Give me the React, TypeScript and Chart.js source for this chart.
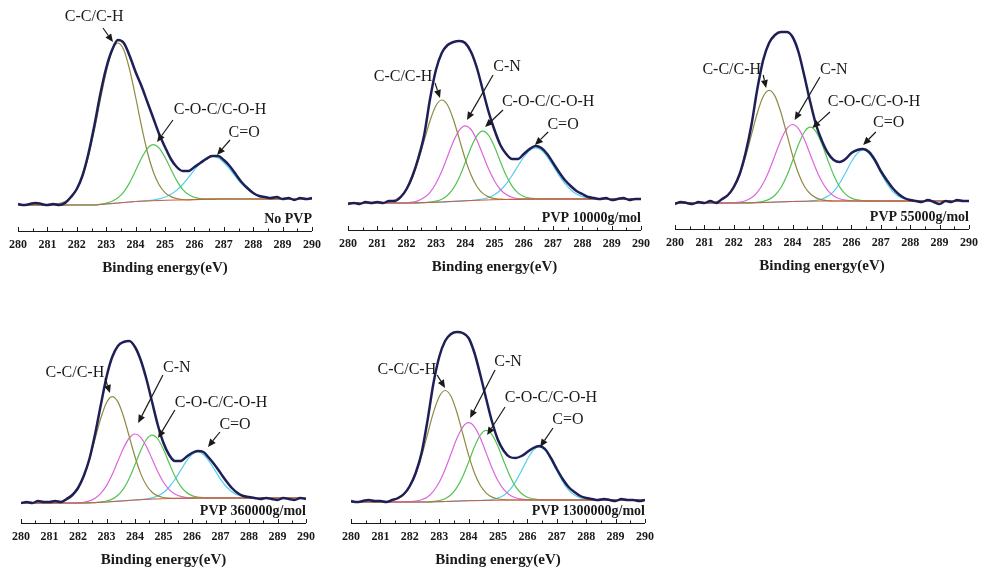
import React, { useEffect, useRef } from 'react';
import { Chart, registerables } from 'chart.js';

Chart.register(...registerables);

const SERIF = '"Liberation Serif", "Times New Roman", serif';

// Binding energy grid (eV)
const ENERGY = [280, 280.2, 280.4, 280.6, 280.8, 281, 281.2, 281.4, 281.6, 281.8, 282, 282.2, 282.4, 282.6, 282.8, 283, 283.2, 283.4, 283.6, 283.8, 284, 284.2, 284.4, 284.6, 284.8, 285, 285.2, 285.4, 285.6, 285.8, 286, 286.2, 286.4, 286.6, 286.8, 287, 287.2, 287.4, 287.6, 287.8, 288, 288.2, 288.4, 288.6, 288.8, 289, 289.2, 289.4, 289.6, 289.8, 290];

const SAMPLE_LABELS = ['No PVP', 'PVP 10000g/mol', 'PVP 55000g/mol', 'PVP 360000g/mol', 'PVP 1300000g/mol'];
const PEAK_LABELS = { cc: 'C-C/C-H', cn: 'C-N', coc: 'C-O-C/C-O-H', cdo: 'C=O' };
const AXIS_TITLE = 'Binding energy(eV)';

// ---- No PVP ----
const NOPVP_ENV = [27, 26, 27, 28, 27, 26, 27, 26, 28, 34, 42, 56, 78, 106, 137, 163, 181, 191, 188, 175, 159, 145, 129, 113, 97, 84, 72, 64, 60, 60, 64, 68, 72, 75, 75, 71, 65, 57, 49, 43, 38, 35, 34, 33, 34, 32, 33, 31, 33, 32, 33];
const NOPVP_BG = [26, 26, 26, 26, 26, 26, 26, 26, 26, 26, 26, 26, 26, 26, 26.5, 27, 27.5, 28, 28.5, 29, 29.5, 29.8, 30, 30.3, 30.5, 30.7, 30.9, 31, 31, 31.2, 31.4, 31.6, 31.8, 31.9, 32, 32, 32, 32, 32, 32, 32, 32, 32, 32, 32, 32, 32, 32, 32, 32, 32];
const NOPVP_CC = [26, 26, 26, 26, 26, 26, 26.5, 27.4, 29.5, 33.7, 41.7, 55, 75, 101, 131, 159, 180, 188, 181, 161, 134, 105, 79, 59.3, 46.2, 38.4, 34.4, 32.4, 31.5, 31.2, 31.4, 31.6, 31.8, 31.9, 32, 32, 32, 32, 32, 32, 32, 32, 32, 32, 32, 32, 32, 32, 32, 32, 32];
const NOPVP_COC = [26, 26, 26, 26, 26, 26, 26, 26, 26, 26, 26, 26, 26, 26, 26.8, 27.8, 29.7, 33.2, 39.2, 48.4, 60.4, 72.8, 82.4, 86.3, 82.9, 73.7, 61.8, 50.4, 41.7, 36.4, 33.6, 32.4, 31.9, 31.9, 32, 32, 32, 32, 32, 32, 32, 32, 32, 32, 32, 32, 32, 32, 32, 32, 32];
const NOPVP_CDO = [26, 26, 26, 26, 26, 26, 26, 26, 26, 26, 26, 26, 26, 26, 26.5, 27, 27.5, 28, 28.5, 29, 29.5, 29.8, 30.3, 31, 32.1, 33.8, 36.7, 40.9, 46.5, 53.6, 61.2, 68.1, 73.1, 74.9, 73.3, 68.5, 61.8, 54.4, 47.5, 41.9, 37.8, 35.1, 33.6, 32.7, 32.3, 32, 32, 32, 32, 32, 32];

// ---- PVP 10000 g/mol ----
const P10K_ENV = [26, 27, 26, 28, 27, 28, 27, 29, 29, 33, 41, 54, 72, 95, 131, 160, 177, 185, 188, 189, 187, 178, 162, 140, 118, 100, 85, 76, 71, 71, 76, 81, 84, 82, 76, 67, 58, 50, 44, 39, 36, 33, 32, 31, 32, 30, 31, 32, 30, 31, 31];
const P10K_BG = [27, 27, 27, 27, 27, 27, 27, 27, 27, 27, 27, 27, 27.2, 27.4, 27.6, 27.8, 28, 28.3, 28.6, 28.9, 29.2, 29.5, 29.7, 29.9, 30.1, 30.3, 30.4, 30.5, 30.6, 30.7, 30.8, 30.9, 31, 31, 31, 31, 31, 31, 31, 31, 31, 31, 31, 31, 31, 31, 31, 31, 31, 31, 31];
const P10K_CC = [27, 27, 27, 27, 27, 27, 27.4, 28.1, 30, 33.7, 40.8, 52.4, 69.1, 89.3, 109.3, 124.3, 130, 124.8, 110.3, 90.8, 71.1, 54.9, 43.5, 36.6, 33.1, 31.4, 30.8, 30.5, 30.6, 30.7, 30.8, 30.9, 31, 31, 31, 31, 31, 31, 31, 31, 31, 31, 31, 31, 31, 31, 31, 31, 31, 31, 31];
const P10K_CN = [27, 27, 27, 27, 27, 27, 27, 27, 27, 27, 27.3, 27.8, 29.4, 32.4, 37.7, 46.5, 58.8, 73.8, 88.7, 99.9, 104.2, 100.5, 89.8, 75.4, 60.9, 49, 40.5, 35.5, 32.8, 31.5, 31.1, 30.9, 31, 31, 31, 31, 31, 31, 31, 31, 31, 31, 31, 31, 31, 31, 31, 31, 31, 31, 31];
const P10K_COC = [27, 27, 27, 27, 27, 27, 27, 27, 27, 27, 27, 27, 27.2, 27.4, 27.9, 28.8, 30.7, 34.7, 41.8, 52.8, 67.3, 82.5, 94.3, 98.9, 94.7, 83.3, 68.5, 54.4, 43.8, 37.1, 33.5, 32, 31.3, 31, 31, 31, 31, 31, 31, 31, 31, 31, 31, 31, 31, 31, 31, 31, 31, 31, 31];
const P10K_CDO = [27, 27, 27, 27, 27, 27, 27, 27, 27, 27, 27, 27, 27.2, 27.4, 27.6, 27.8, 28, 28.3, 28.6, 28.9, 29.2, 29.5, 30.2, 31, 32.5, 35.3, 39.7, 46.1, 54.5, 64, 73, 79.6, 82, 79.7, 73.2, 64.3, 54.9, 46.6, 40.3, 36, 33.4, 32.1, 31.5, 31.2, 31, 31, 31, 31, 31, 31, 31];

// ---- PVP 55000 g/mol ----
const P55K_ENV = [25, 27, 26, 25, 27, 26, 28, 26, 30, 34, 42, 55, 76, 104, 140, 169, 186, 194, 197, 197, 192, 177, 153, 127, 104, 88, 76, 69, 67, 70, 76, 79, 80, 77, 69, 58, 49, 41, 35, 31, 29, 28, 27, 29, 27, 25, 28, 27, 29, 28, 28];
const P55K_BG = [26, 26, 26, 26, 26, 26, 26, 26, 26, 26, 26, 26, 26.1, 26.2, 26.3, 26.5, 26.7, 26.9, 27.1, 27.3, 27.5, 27.6, 27.7, 27.8, 27.9, 28, 28, 28, 28, 28, 28, 28, 28, 28, 28, 28, 28, 28, 28, 28, 28, 28, 28, 28, 28, 28, 28, 28, 28, 28, 28];
const P55K_CC = [26, 26, 26, 26, 26, 26, 26.4, 27.2, 29.2, 33.4, 41.1, 53.9, 72.1, 94.2, 116, 132.5, 138.7, 132.9, 116.8, 95.3, 73.5, 55.5, 42.8, 35.2, 31.1, 29.2, 28.4, 28, 28, 28, 28, 28, 28, 28, 28, 28, 28, 28, 28, 28, 28, 28, 28, 28, 28, 28, 28, 28, 28, 28, 28];
const P55K_CN = [26, 26, 26, 26, 26, 26, 26, 26, 26, 26, 26.3, 26.8, 28.3, 31.3, 36.7, 45.7, 58.3, 73.6, 88.8, 100.1, 104.5, 100.4, 89.4, 74.5, 59.5, 47.2, 38.4, 33.1, 30.2, 28.8, 28.3, 28, 28, 28, 28, 28, 28, 28, 28, 28, 28, 28, 28, 28, 28, 28, 28, 28, 28, 28, 28];
const P55K_COC = [26, 26, 26, 26, 26, 26, 26, 26, 26, 26, 26, 26, 26.1, 26.2, 26.7, 27.6, 29.6, 33.8, 41.2, 53, 68.3, 84.4, 97, 101.8, 97.2, 84.8, 68.8, 53.7, 42.1, 34.9, 30.9, 29.1, 28.4, 28, 28, 28, 28, 28, 28, 28, 28, 28, 28, 28, 28, 28, 28, 28, 28, 28, 28];
const P55K_CDO = [26, 26, 26, 26, 26, 26, 26, 26, 26, 26, 26, 26, 26.1, 26.2, 26.3, 26.5, 26.7, 26.9, 27.1, 27.3, 27.5, 27.6, 27.7, 28.2, 28.7, 30, 32.7, 37.7, 45.7, 56.2, 67.2, 75.7, 79, 75.7, 67.2, 56.2, 45.7, 37.7, 32.7, 30, 28.8, 28.3, 28, 28, 28, 28, 28, 28, 28, 28, 28];

// ---- PVP 360000 g/mol ----
const P360K_ENV = [20, 21, 20, 22, 21, 21, 22, 21, 24, 28, 35, 47, 64, 89, 118, 146, 166, 177, 181, 182, 176, 163, 144, 121, 98, 80, 68, 62, 62, 66, 70, 72, 71, 65, 58, 50, 42, 35, 30, 27, 26, 25, 24, 25, 24, 23, 25, 24, 23, 25, 24];
const P360K_BG = [20, 20, 20, 20, 20, 20, 20, 20, 20, 20, 20, 20, 20.2, 20.4, 20.7, 21, 21.4, 21.8, 22.2, 22.6, 23, 23.3, 23.6, 23.9, 24.1, 24.3, 24.5, 24.6, 24.7, 24.8, 24.9, 25, 25, 25, 25, 25, 25, 25, 25, 25, 25, 25, 25, 25, 25, 25, 25, 25, 25, 25, 25];
const P360K_CC = [20, 20, 20, 20, 20, 20, 20.4, 21.2, 23, 26.9, 34.2, 46.1, 63.4, 84.1, 104.8, 120.3, 126.4, 121.1, 106.3, 86.3, 66.2, 49.4, 37.8, 30.8, 27.1, 25.5, 24.9, 24.6, 24.7, 24.8, 24.9, 25, 25, 25, 25, 25, 25, 25, 25, 25, 25, 25, 25, 25, 25, 25, 25, 25, 25, 25, 25];
const P360K_CN = [20, 20, 20, 20, 20, 20, 20, 20, 20, 20, 20.3, 20.7, 22.1, 24.8, 29.6, 37.4, 48.5, 61.9, 75.1, 85, 89, 85.7, 76.5, 64, 51.2, 40.7, 33.4, 29, 26.6, 25.5, 25.2, 25, 25, 25, 25, 25, 25, 25, 25, 25, 25, 25, 25, 25, 25, 25, 25, 25, 25, 25, 25];
const P360K_COC = [20, 20, 20, 20, 20, 20, 20, 20, 20, 20, 20, 20, 20.2, 20.4, 21, 22, 23.9, 27.8, 34.4, 44.8, 58.3, 72.5, 83.5, 87.9, 84, 73.5, 59.8, 46.8, 36.9, 30.8, 27.4, 26, 25.3, 25, 25, 25, 25, 25, 25, 25, 25, 25, 25, 25, 25, 25, 25, 25, 25, 25, 25];
const P360K_CDO = [20, 20, 20, 20, 20, 20, 20, 20, 20, 20, 20, 20, 20.2, 20.4, 20.7, 21, 21.4, 21.8, 22.2, 22.6, 23, 23.3, 24.1, 25.2, 27.1, 30.5, 36, 43.5, 52.6, 61.6, 68.4, 71, 68.5, 61.8, 52.9, 43.9, 36.5, 31.2, 28, 26.3, 25.5, 25.2, 25, 25, 25, 25, 25, 25, 25, 25, 25];

// ---- PVP 1300000 g/mol ----
const P1300K_ENV = [22, 21, 22, 23, 22, 22, 21, 23, 25, 29, 37, 50, 70, 102, 139, 166, 182, 189, 191, 190, 185, 170, 148, 124, 101, 83, 72, 66, 65, 67, 71, 75, 77, 74, 65, 54, 44, 36, 31, 27, 25, 24, 23, 24, 23, 22, 24, 23, 23, 22, 23];
const P1300K_BG = [21, 21, 21, 21, 21, 21, 21, 21, 21, 21, 21, 21, 21, 21, 21.2, 21.3, 21.5, 21.7, 21.9, 22.1, 22.3, 22.4, 22.5, 22.6, 22.7, 22.8, 22.9, 23, 23, 23, 23, 23, 23, 23, 23, 23, 23, 23, 23, 23, 23, 23, 23, 23, 23, 23, 23, 23, 23, 23, 23];
const P1300K_CC = [21, 21, 21, 21, 21, 21, 21.4, 22.2, 24.2, 28.3, 36, 48.6, 66.6, 88.4, 110.1, 126.3, 132.5, 126.7, 110.8, 89.5, 67.9, 50, 37.5, 29.9, 25.9, 24, 23.3, 23, 23, 23, 23, 23, 23, 23, 23, 23, 23, 23, 23, 23, 23, 23, 23, 23, 23, 23, 23, 23, 23, 23, 23];
const P1300K_CN = [21, 21, 21, 21, 21, 21, 21, 21, 21, 21, 21.3, 21.9, 23.3, 26.1, 31.7, 40.7, 53.6, 69, 84.4, 95.9, 100.3, 96.2, 85, 69.9, 54.8, 42.2, 33.4, 28.1, 25.3, 23.9, 23.3, 23, 23, 23, 23, 23, 23, 23, 23, 23, 23, 23, 23, 23, 23, 23, 23, 23, 23, 23, 23];
const P1300K_COC = [21, 21, 21, 21, 21, 21, 21, 21, 21, 21, 21, 21, 21, 21, 21.6, 22.4, 24.2, 28.2, 35.3, 46.4, 60.9, 76.2, 88, 92.6, 88.2, 76.6, 61.5, 47.3, 36.4, 29.5, 25.7, 24.1, 23.4, 23, 23, 23, 23, 23, 23, 23, 23, 23, 23, 23, 23, 23, 23, 23, 23, 23, 23];
const P1300K_CDO = [21, 21, 21, 21, 21, 21, 21, 21, 21, 21, 21, 21, 21, 21, 21.2, 21.3, 21.5, 21.7, 21.9, 22.1, 22.3, 22.4, 22.5, 22.9, 23.5, 24.9, 27.8, 33.1, 41.4, 52.3, 63.7, 72.6, 76, 72.6, 63.7, 52.3, 41.4, 33.1, 27.9, 25.1, 23.8, 23.3, 23, 23, 23, 23, 23, 23, 23, 23, 23];

const COLORS = {
  env: '#1f1f58',
  bg: '#d2583a',
  cc: '#8e8a42',
  cn: '#dd66dd',
  coc: '#52c452',
  cdo: '#52cfee',
};

type Note = { key: 'cc' | 'cn' | 'coc' | 'cdo'; at: [number, number]; from: [number, number]; to: [number, number] };

const PANELS = [
  {
    label: SAMPLE_LABELS[0], env: NOPVP_ENV, bg: NOPVP_BG, cc: NOPVP_CC, cn: null, coc: NOPVP_COC, cdo: NOPVP_CDO,
    x0: 18, x1: 312, axisY: 231, ymax: 200, padR: 30,
    notes: [
      { key: 'cc', at: [282.59, 214], from: [282.89, 203], to: [283.23, 189] },
      { key: 'coc', at: [286.87, 121], from: [285.27, 111], to: [284.73, 89] },
      { key: 'cdo', at: [287.69, 98], from: [287.21, 91], to: [286.77, 76] },
    ] as Note[],
  },
  {
    label: SAMPLE_LABELS[1], env: P10K_ENV, bg: P10K_BG, cc: P10K_CC, cn: P10K_CN, coc: P10K_COC, cdo: P10K_CDO,
    x0: 348, x1: 641, axisY: 230, ymax: 200, padR: 30,
    notes: [
      { key: 'cc', at: [281.88, 153], from: [282.97, 147], to: [283.14, 132] },
      { key: 'cn', at: [285.43, 163], from: [284.95, 155], to: [284.06, 110] },
      { key: 'coc', at: [286.83, 128], from: [285.29, 120], to: [284.68, 103] },
      { key: 'cdo', at: [287.34, 105], from: [286.83, 98], to: [286.38, 85] },
    ] as Note[],
  },
  {
    label: SAMPLE_LABELS[2], env: P55K_ENV, bg: P55K_BG, cc: P55K_CC, cn: P55K_CN, coc: P55K_COC, cdo: P55K_CDO,
    x0: 675, x1: 975, axisY: 229, ymax: 205, padR: 10,
    notes: [
      { key: 'cc', at: [281.93, 159], from: [283.0, 154], to: [283.1, 141] },
      { key: 'cn', at: [285.4, 159], from: [284.93, 152], to: [284.07, 109] },
      { key: 'coc', at: [286.77, 127], from: [285.27, 117], to: [284.67, 101] },
      { key: 'cdo', at: [287.27, 106], from: [286.83, 97], to: [286.4, 84] },
    ] as Note[],
  },
  {
    label: SAMPLE_LABELS[3], env: P360K_ENV, bg: P360K_BG, cc: P360K_CC, cn: P360K_CN, coc: P360K_COC, cdo: P360K_CDO,
    x0: 21, x1: 306, axisY: 523, ymax: 200, padR: 30,
    notes: [
      { key: 'cc', at: [281.89, 150], from: [282.95, 145], to: [283.12, 130] },
      { key: 'cn', at: [285.47, 155], from: [284.98, 148], to: [284.11, 100] },
      { key: 'coc', at: [287.02, 120], from: [285.4, 113], to: [284.81, 85] },
      { key: 'cdo', at: [287.51, 98], from: [286.98, 91], to: [286.56, 76] },
    ] as Note[],
  },
  {
    label: SAMPLE_LABELS[4], env: P1300K_ENV, bg: P1300K_BG, cc: P1300K_CC, cn: P1300K_CN, coc: P1300K_COC, cdo: P1300K_CDO,
    x0: 351, x1: 645, axisY: 523, ymax: 200, padR: 30,
    notes: [
      { key: 'cc', at: [281.9, 153], from: [282.93, 148], to: [283.2, 135] },
      { key: 'cn', at: [285.34, 161], from: [284.9, 153], to: [284.05, 105] },
      { key: 'coc', at: [286.8, 125], from: [285.24, 116], to: [284.63, 88] },
      { key: 'cdo', at: [287.38, 103], from: [286.87, 95], to: [286.43, 76] },
    ] as Note[],
  },
];

const PAD_L = 30;
const TOP_ROOM = 235;
const AXIS_H = 50;
const PAD_B = 2;

function XpsPanel({ p }: { p: any }) {
  const ref = useRef<HTMLCanvasElement>(null);
  const width = PAD_L + (p.x1 - p.x0) + p.padR;
  const height = TOP_ROOM + AXIS_H + PAD_B;

  useEffect(() => {
    if (!ref.current) return;
    const pts = (arr: number[]) => ENERGY.map((e, i) => ({ x: e, y: arr[i] }));
    const ds = (label: string, arr: number[], color: string, w: number) => ({
      label,
      data: pts(arr),
      borderColor: color,
      borderWidth: w,
      pointRadius: 0,
      fill: false,
      cubicInterpolationMode: 'monotone',
    });
    const datasets: any[] = [ds('Envelope', p.env, COLORS.env, 2.5), ds('Background', p.bg, COLORS.bg, 1)];
    datasets.push(ds(PEAK_LABELS.cc, p.cc, COLORS.cc, 1.2));
    if (p.cn) datasets.push(ds(PEAK_LABELS.cn, p.cn, COLORS.cn, 1.2));
    datasets.push(ds(PEAK_LABELS.coc, p.coc, COLORS.coc, 1.2));
    datasets.push(ds(PEAK_LABELS.cdo, p.cdo, COLORS.cdo, 1.2));

    const decor = {
      id: 'xpsDecor',
      afterDraw(chart: any) {
        const { ctx, chartArea: a, scales } = chart;
        const xs = scales.x;
        const ys = scales.y;
        ctx.save();
        ctx.strokeStyle = '#1a1a1a';
        ctx.fillStyle = '#1a1a1a';
        ctx.lineWidth = 1.2;
        ctx.beginPath();
        ctx.moveTo(a.left, a.bottom + 0.5);
        ctx.lineTo(a.right, a.bottom + 0.5);
        ctx.stroke();
        ctx.lineWidth = 1;
        for (let k = 0; k <= 20; k++) {
          const v = 280 + k * 0.5;
          const px = Math.round(xs.getPixelForValue(v)) + 0.5;
          const len = k % 2 === 0 ? 4 : 2.5;
          ctx.beginPath();
          ctx.moveTo(px, a.bottom);
          ctx.lineTo(px, a.bottom - len);
          ctx.stroke();
        }
        // sample label
        ctx.font = `bold 14px ${SERIF}`;
        ctx.textAlign = 'right';
        ctx.textBaseline = 'middle';
        ctx.fillText(p.label, a.right, a.bottom - 12);
        // peak annotations
        ctx.font = `16px ${SERIF}`;
        ctx.textAlign = 'center';
        for (const n of p.notes as Note[]) {
          const tx = xs.getPixelForValue(n.at[0]);
          const ty = ys.getPixelForValue(n.at[1]);
          ctx.fillText(PEAK_LABELS[n.key], tx, ty);
          const fx = xs.getPixelForValue(n.from[0]);
          const fy = ys.getPixelForValue(n.from[1]);
          const ex = xs.getPixelForValue(n.to[0]);
          const ey = ys.getPixelForValue(n.to[1]);
          const ang = Math.atan2(ey - fy, ex - fx);
          const head = 8;
          const bx = ex - head * Math.cos(ang);
          const by = ey - head * Math.sin(ang);
          ctx.lineWidth = 1.2;
          ctx.beginPath();
          ctx.moveTo(fx, fy);
          ctx.lineTo(bx, by);
          ctx.stroke();
          ctx.beginPath();
          ctx.moveTo(ex, ey);
          ctx.lineTo(bx + 3.5 * Math.sin(ang), by - 3.5 * Math.cos(ang));
          ctx.lineTo(bx - 3.5 * Math.sin(ang), by + 3.5 * Math.cos(ang));
          ctx.closePath();
          ctx.fill();
        }
        ctx.restore();
      },
    };

    const chart = new Chart(ref.current, {
      type: 'line',
      data: { datasets },
      options: {
        animation: false,
        responsive: false,
        maintainAspectRatio: false,
        devicePixelRatio: 1,
        layout: { padding: { left: PAD_L, right: p.padR, top: TOP_ROOM - p.ymax, bottom: PAD_B } },
        plugins: { legend: { display: false }, tooltip: { enabled: false }, title: { display: false } },
        elements: { point: { radius: 0 } },
        scales: {
          x: {
            type: 'linear',
            min: 280,
            max: 290,
            grid: { display: false, drawTicks: false },
            border: { display: false },
            ticks: {
              stepSize: 1,
              autoSkip: false,
              maxRotation: 0,
              padding: 7,
              color: '#1a1a1a',
              font: { family: SERIF, size: 12, weight: 'bold' },
            },
            title: {
              display: true,
              text: AXIS_TITLE,
              color: '#1a1a1a',
              font: { family: SERIF, size: 15, weight: 'bold' },
              padding: { top: 8, bottom: 4 },
            },
            afterFit: (scale: any) => {
              scale.height = AXIS_H;
            },
          },
          y: { display: false, min: 0, max: p.ymax },
        },
      } as any,
      plugins: [decor],
    });
    return () => chart.destroy();
  }, []);

  return (
    <canvas
      ref={ref}
      width={width}
      height={height}
      style={{ position: 'absolute', left: p.x0 - PAD_L, top: p.axisY - TOP_ROOM, width, height }}
    />
  );
}

export default function App() {
  return (
    <div style={{ position: 'absolute', left: 0, top: 0, width: 986, height: 572, overflow: 'hidden', background: '#ffffff' }}>
      {PANELS.map((p, i) => (
        <XpsPanel key={i} p={p} />
      ))}
    </div>
  );
}
